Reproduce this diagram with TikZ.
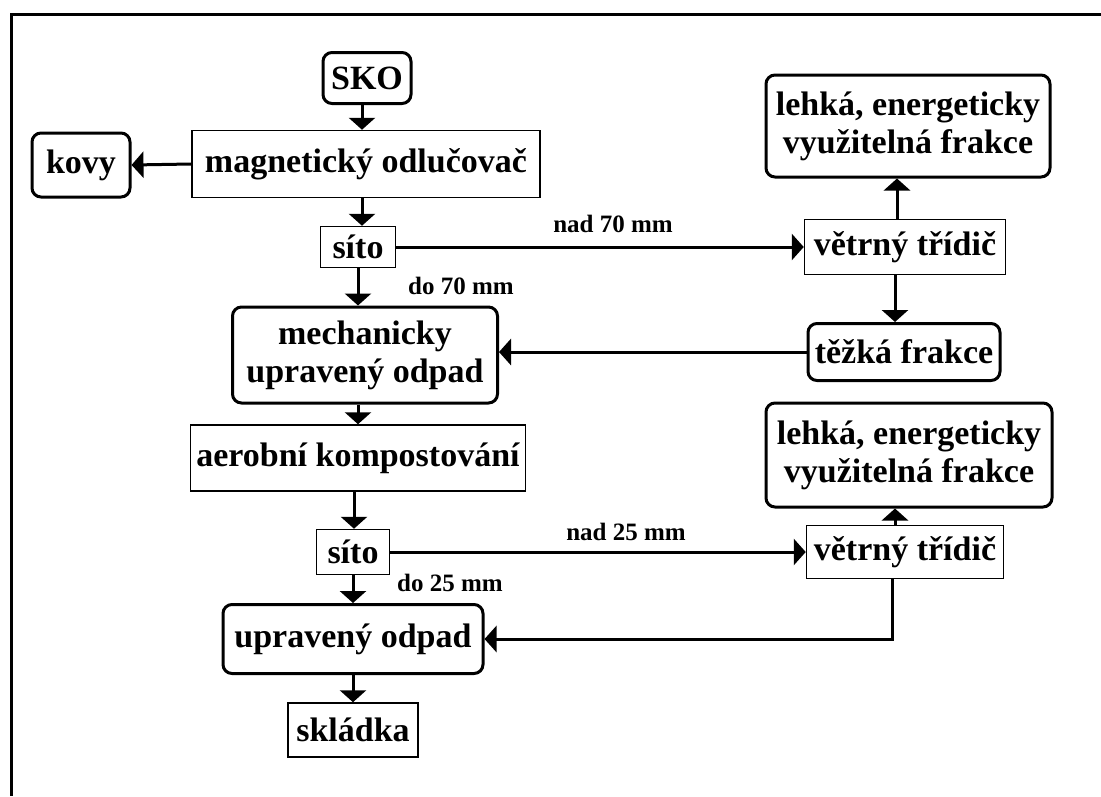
\documentclass[tikz,border=0pt]{standalone}
\usepackage{fontspec}
\setmainfont{Liberation Serif}
\usetikzlibrary{arrows.meta}

\begin{document}
\begin{tikzpicture}
  [x=1pt,y=-1pt,>={Triangle[width=26pt,length=12pt]},
   every node/.style={font=\fontsize{34}{38}\selectfont\bfseries,align=center,inner sep=0pt},
   box/.style={draw,line width=1.5pt},
   rbox/.style={draw,line width=3pt,rounded corners=9pt},
   lbl/.style={font=\fontsize{25}{28}\selectfont\bfseries},
   arr/.style={->,line width=3pt}]
  \useasboundingbox (0,0) rectangle (1101,796);
  \draw[line width=3pt] (1101,14) -- (11,14) -- (11,796);

  \node[rbox,minimum width=88,minimum height=51] (sko) at (367,78) {SKO};
  \node[box,minimum width=348,minimum height=67] (mag) at (366,164) {magnetický odlučovač};
  \node[rbox,minimum width=98,minimum height=64] (kovy) at (81,165) {kovy};
  \node[box,minimum width=75,minimum height=41] (sito1) at (358,247) {síto};
  \node[box,minimum width=201,minimum height=55] (vet1) at (905,247) {větrný třídič};
  \node[rbox,minimum width=284,minimum height=102] (leh1) at (908,126) {lehká, energeticky\\využitelná frakce};
  \node[rbox,minimum width=192,minimum height=57] (tez) at (904,352) {těžká frakce};
  \node[rbox,minimum width=265,minimum height=96] (mech) at (365,355) {mechanicky\\upravený odpad};
  \node[box,minimum width=335,minimum height=66] (aer) at (358,458) {aerobní kompostování};
  \node[box,minimum width=73,minimum height=45] (sito2) at (353,552) {síto};
  \node[box,minimum width=197,minimum height=53] (vet2) at (905,552) {větrný třídič};
  \node[rbox,minimum width=286,minimum height=104] (leh2) at (909,455) {lehká, energeticky\\využitelná frakce};
  \node[rbox,minimum width=260,minimum height=69] (upr) at (353,639) {upravený odpad};
  \node[box,minimum width=130,minimum height=54] (skl) at (353,730) {skládka};

  \node[lbl] (nad70) at (613,224) {nad 70 mm};
  \node[lbl] (do70) at (461,286) {do 70 mm};
  \node[lbl] (nad25) at (626,532) {nad 25 mm};
  \node[lbl] (do25) at (450,583) {do 25 mm};

  % hlavni linka
  \draw[arr] ([xshift=-5pt]sko.south) -- ([xshift=-5pt]sko.south |- mag.north);
  \draw[arr] (mag.west) -- (kovy.east);
  \draw[arr] ([xshift=-4pt]mag.south) -- ([xshift=-4pt]mag.south |- sito1.north);
  \draw[arr] (sito1.south) -- (sito1.south |- mech.north);
  \draw[arr] ([xshift=-7pt]mech.south) -- ([xshift=-7pt]mech.south |- aer.north);
  \draw[arr] ([xshift=-4pt]aer.south) -- ([xshift=-4pt]aer.south |- sito2.north);
  \draw[arr] (sito2.south) -- (sito2.south |- upr.north);
  \draw[arr] (upr.south) -- (upr.south |- skl.north);

  % vetrne tridice
  \draw[arr] (sito1.east) -- (sito1.east -| vet1.west);
  \draw[arr] ([xshift=-8pt]vet1.north) -- ([xshift=-8pt]vet1.north |- leh1.south);
  \draw[arr] ([xshift=-10pt]vet1.south) -- ([xshift=-10pt]vet1.south |- tez.north);
  \draw[arr] (tez.west) -- (tez.west -| mech.east);
  \draw[arr] (sito2.east) -- (sito2.east -| vet2.west);
  \draw[arr] ([xshift=-10pt]vet2.north) -- ([xshift=-10pt]vet2.north |- leh2.south);
  \draw[arr] ([xshift=-13pt]vet2.south) |- (upr.east);

\end{tikzpicture}
\end{document}
